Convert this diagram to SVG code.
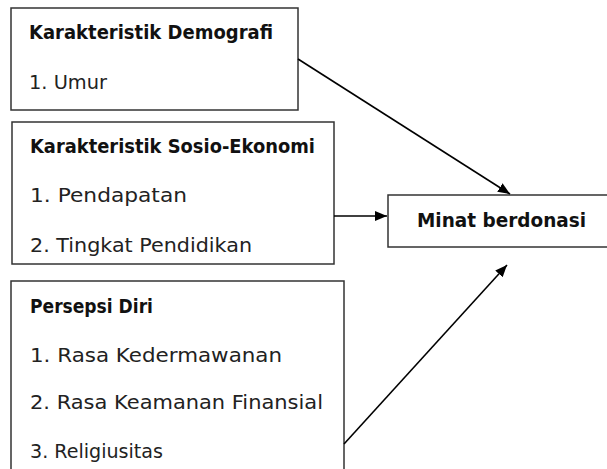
<svg xmlns="http://www.w3.org/2000/svg" width="607" height="469" viewBox="0 0 607 469">
<defs>
<style>
.box{fill:#fff;stroke:#333;stroke-width:1.5}
.t{font-family:"DejaVu Sans","Open Sans",sans-serif;font-size:19px;fill:#222}
.b{font-weight:bold;fill:#111}
.c{fill:none;stroke:#000;stroke-width:1.6}
</style>
<marker id="ah" viewBox="0 0 12 10" refX="12" refY="5" markerWidth="12" markerHeight="10" markerUnits="userSpaceOnUse" orient="auto">
<path d="M0,0 L12,5 L0,10 z" fill="#000"/>
</marker>
</defs>
<rect width="607" height="469" fill="#fff"/>
<g id="demografi">
<rect class="box" x="11" y="8" width="287" height="102"/>
<text class="t b" x="29" y="39" textLength="244" lengthAdjust="spacingAndGlyphs">Karakteristik Demografi</text>
<text class="t" x="29" y="89" textLength="78" lengthAdjust="spacingAndGlyphs">1. Umur</text>
</g>
<g id="sosio-ekonomi">
<rect class="box" x="12" y="122" width="322" height="142"/>
<text class="t b" x="30" y="153" textLength="285" lengthAdjust="spacingAndGlyphs">Karakteristik Sosio-Ekonomi</text>
<text class="t" x="30" y="202" textLength="157" lengthAdjust="spacingAndGlyphs">1. Pendapatan</text>
<text class="t" x="30" y="252" textLength="222" lengthAdjust="spacingAndGlyphs">2. Tingkat Pendidikan</text>
</g>
<g id="persepsi-diri">
<rect class="box" x="11" y="281" width="333" height="200"/>
<text class="t b" x="30" y="313" textLength="123" lengthAdjust="spacingAndGlyphs">Persepsi Diri</text>
<text class="t" x="30" y="362" textLength="252" lengthAdjust="spacingAndGlyphs">1. Rasa Kedermawanan</text>
<text class="t" x="30" y="409" textLength="293" lengthAdjust="spacingAndGlyphs">2. Rasa Keamanan Finansial</text>
<text class="t" x="30" y="458" textLength="133" lengthAdjust="spacingAndGlyphs">3. Religiusitas</text>
</g>
<g id="minat">
<rect class="box" x="388" y="195" width="225" height="52"/>
<text class="t b" x="417" y="227" textLength="169" lengthAdjust="spacingAndGlyphs">Minat berdonasi</text>
</g>
<g id="connectors">
<line class="c" x1="298" y1="59" x2="510" y2="194" marker-end="url(#ah)"/>
<line class="c" x1="334" y1="216" x2="387" y2="216" marker-end="url(#ah)"/>
<line class="c" x1="344" y1="444" x2="507" y2="265" marker-end="url(#ah)"/>
</g>
</svg>
